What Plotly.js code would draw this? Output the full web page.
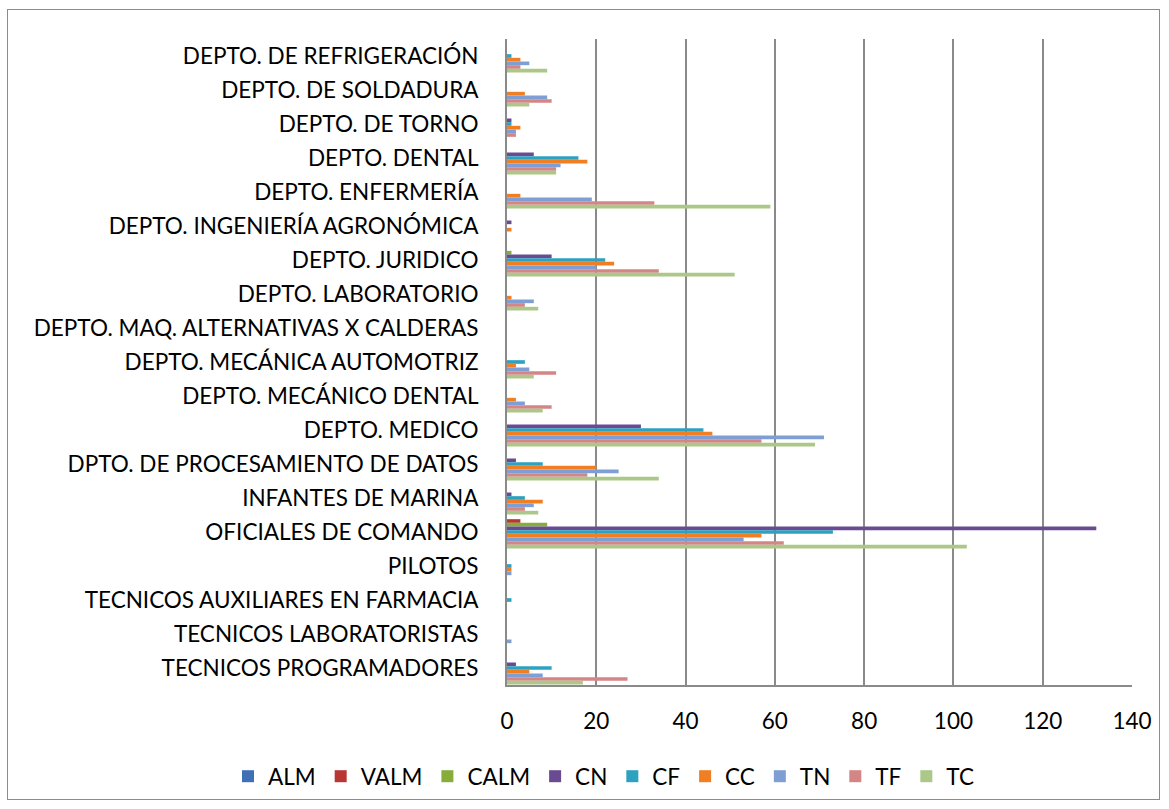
<!DOCTYPE html>
<html>
<head>
<meta charset="utf-8">
<script src="https://cdn.plot.ly/plotly-3.0.1.min.js"></script>
<style>
  html, body { margin: 0; padding: 0; background: #ffffff; }
  #wrap { position: relative; width: 1169px; height: 809px; }
  #chart { width: 1169px; height: 809px; }
  #frame { position: absolute; left: 7px; top: 9px; width: 1153px; height: 791px;
           border: 1.5px solid #8c8c8c; box-sizing: border-box; pointer-events: none; }
</style>
</head>
<body>
<div id="wrap">
  <div id="chart"></div>
  <div id="frame"></div>
</div>
<script>
const categories = [
  "DEPTO. DE REFRIGERACIÓN",
  "DEPTO. DE SOLDADURA",
  "DEPTO. DE TORNO",
  "DEPTO. DENTAL",
  "DEPTO. ENFERMERÍA",
  "DEPTO. INGENIERÍA AGRONÓMICA",
  "DEPTO. JURIDICO",
  "DEPTO. LABORATORIO",
  "DEPTO. MAQ. ALTERNATIVAS X CALDERAS",
  "DEPTO. MECÁNICA AUTOMOTRIZ",
  "DEPTO. MECÁNICO DENTAL",
  "DEPTO. MEDICO",
  "DPTO. DE PROCESAMIENTO DE DATOS",
  "INFANTES DE MARINA",
  "OFICIALES DE COMANDO",
  "PILOTOS",
  "TECNICOS AUXILIARES EN FARMACIA",
  "TECNICOS LABORATORISTAS",
  "TECNICOS PROGRAMADORES"
];

const seriesNames = ["ALM", "VALM", "CALM", "CN", "CF", "CC", "TN", "TF", "TC"];

const ALM  = [0, 0, 0, 0, 0, 0, 0, 0, 0, 0, 0, 0, 0, 0, 0, 0, 0, 0, 0];
const VALM = [0, 0, 0, 0, 0, 0, 0, 0, 0, 0, 0, 0, 0, 0, 3, 0, 0, 0, 0];
const CALM = [0, 0, 0, 0, 0, 0, 1, 0, 0, 0, 0, 0, 0, 0, 9, 0, 0, 0, 0];
const CN   = [0, 0, 1, 6, 0, 1, 10, 0, 0, 0, 0, 30, 2, 1, 132, 0, 0, 0, 2];
const CF   = [1, 0, 1, 16, 0, 0, 22, 0, 0, 4, 0, 44, 8, 4, 73, 1, 1, 0, 10];
const CC   = [3, 4, 3, 18, 3, 1, 24, 1, 0, 2, 2, 46, 20, 8, 57, 1, 0, 0, 5];
const TN   = [5, 9, 2, 12, 19, 0, 20, 6, 0, 5, 4, 71, 25, 6, 53, 1, 0, 1, 8];
const TF   = [3, 10, 2, 11, 33, 0, 34, 4, 0, 11, 10, 57, 18, 4, 62, 0, 0, 0, 27];
const TC   = [9, 5, 0, 11, 59, 0, 51, 7, 0, 6, 8, 69, 34, 7, 103, 0, 0, 0, 17];

const xTicks = [0, 20, 40, 60, 80, 100, 120, 140];

const seriesValues = [ALM, VALM, CALM, CN, CF, CC, TN, TF, TC];
const seriesColors = ["#3f6fb5", "#b93633", "#86ad3a", "#6a4b93", "#2da1c0",
                      "#ef7f22", "#7f9fd4", "#d48585", "#abc888"];

const FONT = "Lato, 'Open Sans', sans-serif";

const traces = seriesNames.map((name, i) => ({
  type: "bar",
  orientation: "h",
  name: name,
  y: categories,
  x: seriesValues[i],
  marker: { color: seriesColors[i], line: { width: 0 } },
  hoverinfo: "x+y+name"
}));

const layout = {
  width: 1169,
  height: 809,
  margin: { l: 507, r: 37, t: 39, b: 123, pad: 0 },
  paper_bgcolor: "#ffffff",
  plot_bgcolor: "#ffffff",
  barmode: "group",
  bargap: 0.03,
  bargroupgap: 0,
  font: { family: FONT, size: 22.5, color: "#000000" },
  xaxis: {
    range: [0, 140],
    tickvals: xTicks,
    ticktext: xTicks.map(String),
    showgrid: true,
    gridcolor: "#8a8a8a",
    gridwidth: 2,
    zeroline: false,
    showline: true,
    linecolor: "#8a8a8a",
    linewidth: 2,
    ticks: "",
    ticklabelstandoff: 15,
    tickfont: { family: FONT, size: 22.5, color: "#000000" },
    fixedrange: true
  },
  yaxis: {
    type: "category",
    autorange: "reversed",
    showgrid: false,
    zeroline: false,
    showline: true,
    linecolor: "#8a8a8a",
    linewidth: 2,
    ticks: "",
    ticklabelstandoff: 22,
    tickfont: { family: FONT, size: 22.5, color: "#000000" },
    fixedrange: true
  },
  showlegend: true,
  legend: {
    orientation: "h",
    x: (228 - 507) / 625,
    xanchor: "left",
    y: -0.14,
    yanchor: "middle",
    font: { family: FONT, size: 22.5, color: "#000000" },
    traceorder: "normal",
    bgcolor: "rgba(0,0,0,0)"
  }
};

Plotly.newPlot("chart", traces, layout, { displayModeBar: false, staticPlot: true });
</script>
</body>
</html>
